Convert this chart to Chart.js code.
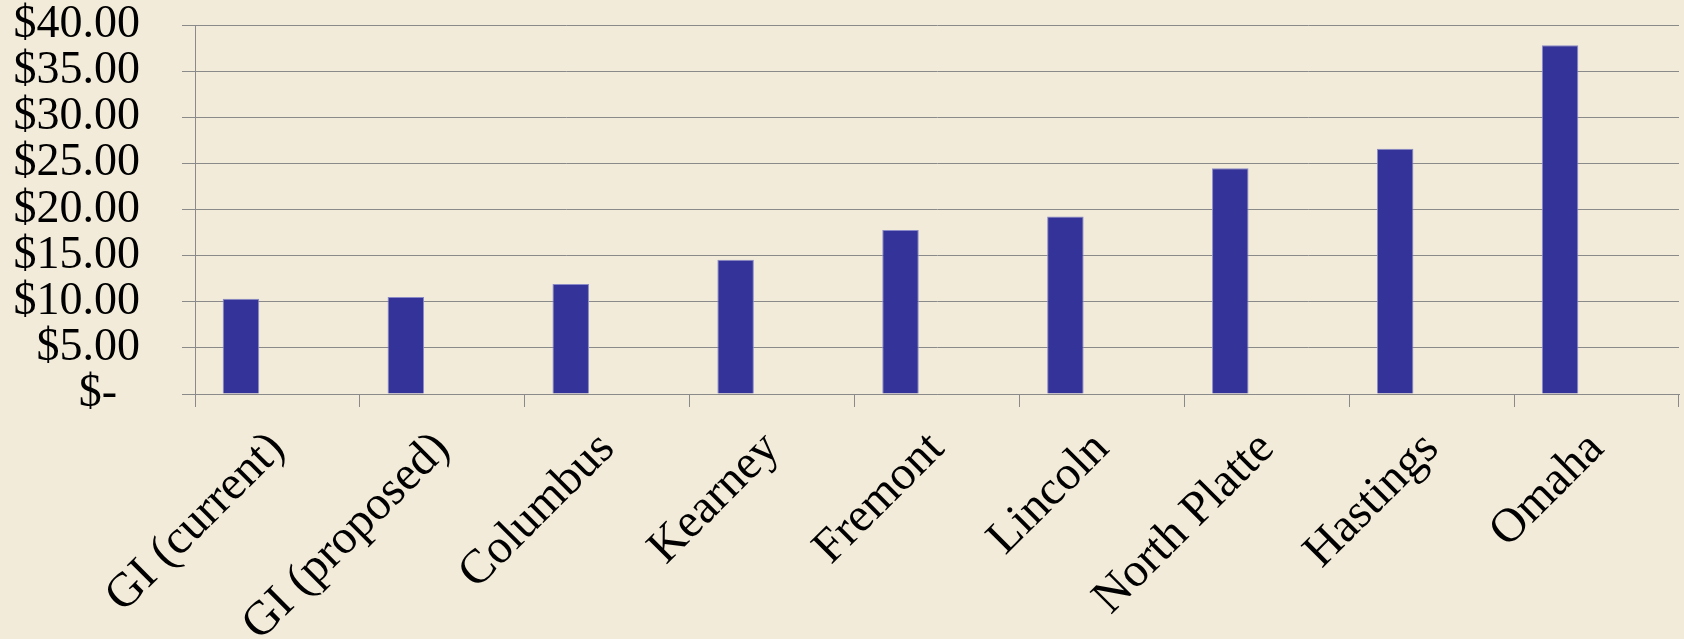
<!DOCTYPE html>
<html>
<head>
<meta charset="utf-8">
<script src="https://cdn.jsdelivr.net/npm/chart.js@4.4.1/dist/chart.umd.min.js"></script>
<style>
    html, body { margin: 0; padding: 0; background: #f2ebd9; }
    #wrap { width: 1684px; height: 639px; }
</style>
</head>
<body>
<div id="wrap"><canvas id="chart" width="1684" height="639"></canvas></div>
<script>
// data
const cities = ["GI (current)", "GI (proposed)", "Columbus", "Kearney", "Fremont", "Lincoln", "North Platte", "Hastings", "Omaha"];
const fees = [10.32, 10.51, 11.92, 14.55, 17.77, 19.24, 24.48, 26.58, 37.81];
const emptySeries = [null, null, null, null, null, null, null, null, null];
const yTickLabels = ["$-  ", "$5.00", "$10.00", "$15.00", "$20.00", "$25.00", "$30.00", "$35.00", "$40.00"];

const serif = "'Liberation Serif', 'Times New Roman', serif";
const gridGrey = "#8a8a8a";

const ctx = document.getElementById("chart").getContext("2d");

new Chart(ctx, {
    type: "bar",
    data: {
        labels: cities,
        datasets: [
            {
                label: "Rate",
                data: fees,
                backgroundColor: "#333399",
                borderColor: "#8a8ac8",
                borderWidth: 1
            },
            // the original chart keeps two blank series next to the bars
            { label: "", data: emptySeries },
            { label: "", data: emptySeries }
        ]
    },
    options: {
        responsive: false,
        animation: false,
        categoryPercentage: 0.664,
        barPercentage: 1.0,
        layout: { padding: { top: 25, right: 5, left: 0, bottom: 0 } },
        plugins: {
            legend: { display: false },
            tooltip: { enabled: false }
        },
        scales: {
            x: {
                grid: {
                    offset: true,
                    drawOnChartArea: false,
                    drawTicks: true,
                    tickLength: 13,
                    color: gridGrey,
                    lineWidth: 1
                },
                border: { color: gridGrey, width: 1 },
                ticks: {
                    autoSkip: false,
                    maxRotation: 45,
                    minRotation: 45,
                    padding: 14,
                    color: "#000",
                    font: { family: serif, size: 48 }
                },
                afterFit: function (scale) { scale.height = 245; }
            },
            y: {
                min: 0,
                max: 40,
                grid: {
                    color: gridGrey,
                    lineWidth: 1,
                    tickLength: 13
                },
                border: { color: gridGrey, width: 1 },
                ticks: {
                    stepSize: 5,
                    autoSkip: false,
                    padding: 42,
                    color: "#000",
                    font: { family: serif, size: 46 },
                    callback: function (value, index) { return yTickLabels[index]; }
                },
                afterFit: function (scale) {
                    scale.width = 195;
                    scale.paddingTop = 0;
                    scale.paddingBottom = 0;
                }
            }
        }
    }
});
</script>
</body>
</html>
